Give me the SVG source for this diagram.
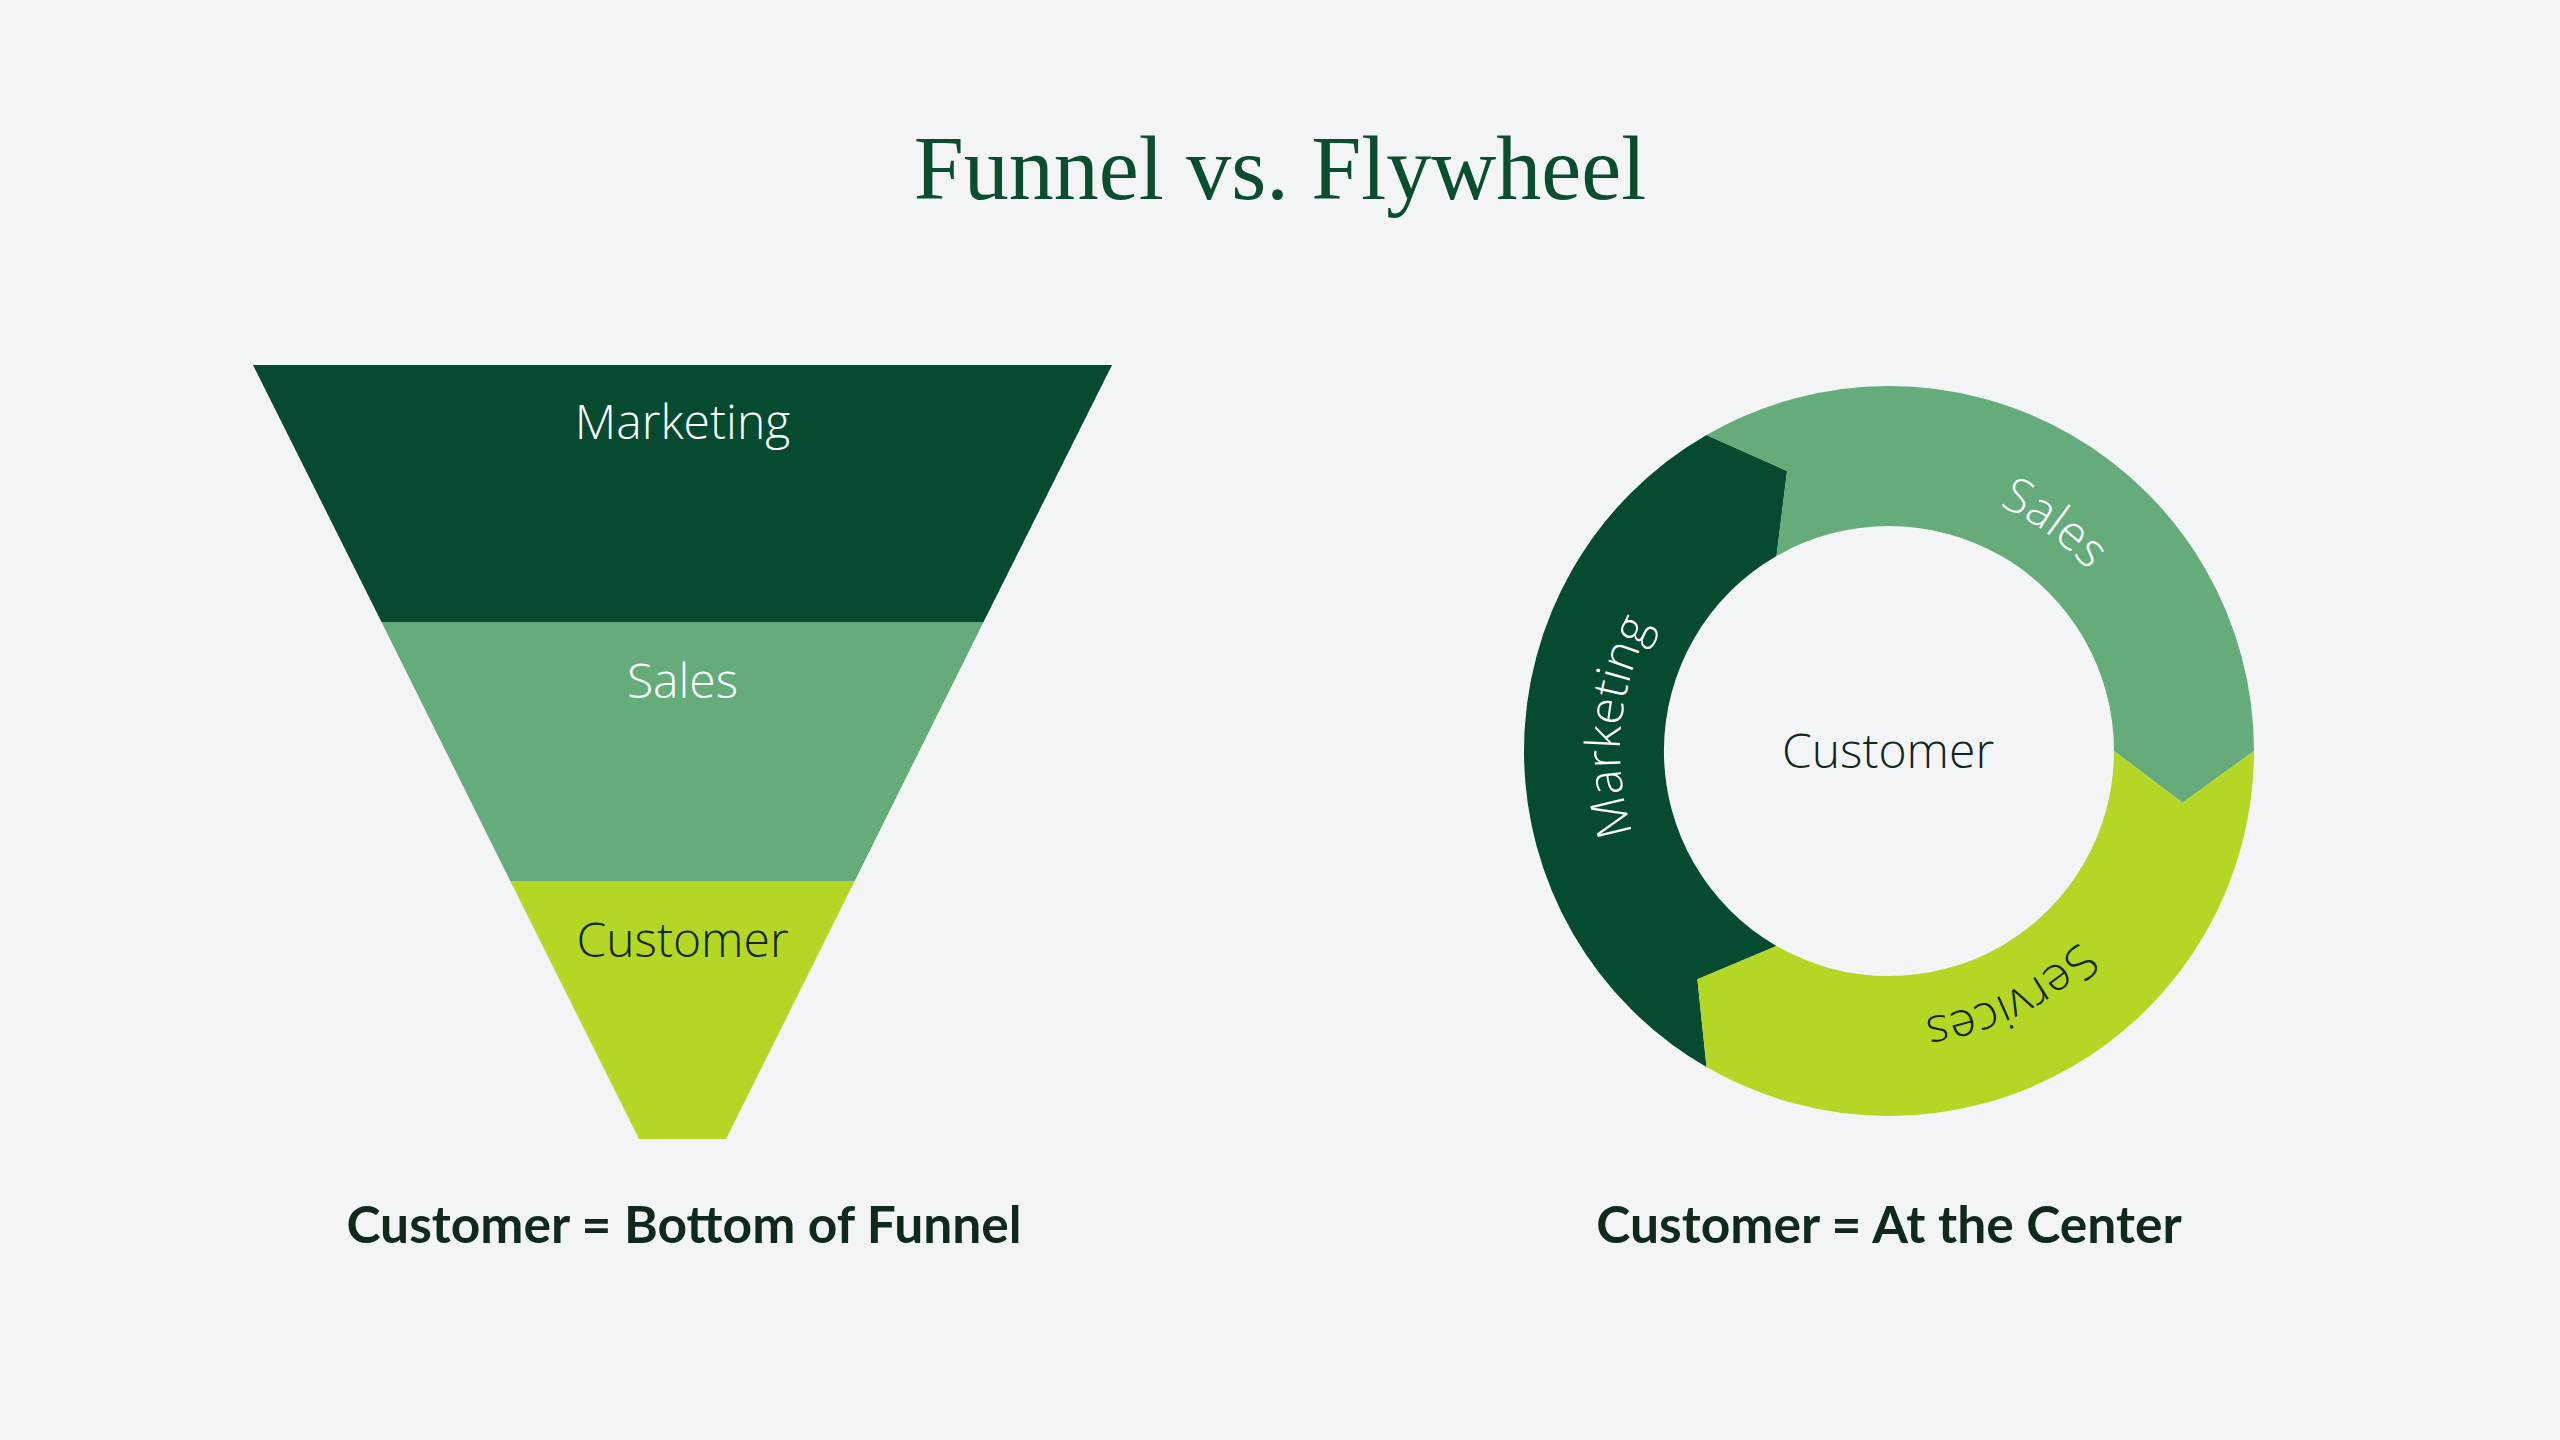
<svg xmlns="http://www.w3.org/2000/svg" width="2560" height="1440" viewBox="0 0 2560 1440">
<style>
.lbl{font-family:"Open Sans","Liberation Sans",sans-serif;font-weight:300;font-size:48px;text-anchor:middle}
.w{fill:#ffffff}
.d{fill:#13261c}
.cap{font-family:Lato,"Liberation Sans",sans-serif;font-weight:700;font-size:51.5px;fill:#0f2a1c;text-anchor:middle}
.c1{fill:#064a30}
.c2{fill:#65ac7a}
.c3{fill:#b4d625}
</style>
<defs>
<path id="ring" d="M 1889 1020 A 269 269 0 0 1 1889 482 A 269 269 0 0 1 1889 1020"/>
</defs>
<rect width="2560" height="1440" fill="#f2f4f5"/>
<text x="1280" y="199" font-family="'Liberation Serif',serif" font-size="90" fill="#0b4d2f" text-anchor="middle">Funnel vs. Flywheel</text>
<g id="funnel">
<g id="funnel-marketing"><polygon class="c1" points="253,365 1112,365 983.5,622 381.5,622"/><text class="lbl w" x="682.5" y="439">Marketing</text></g>
<g id="funnel-sales"><polygon class="c2" points="381.5,622 983.5,622 854.7,881 510.3,881"/><text class="lbl w" x="682.5" y="698">Sales</text></g>
<g id="funnel-customer"><polygon class="c3" points="510.3,881 854.7,881 726,1139 639,1139"/><text class="lbl d" x="682.5" y="957">Customer</text></g>
</g>
<g id="flywheel">
<g id="fw-marketing"><path class="c1" d="M 1706.5 1067.1 A 365 365 0 0 1 1706.5 434.9 L 1787.1 471.0 L 1776.5 556.1 A 225 225 0 0 0 1776.5 945.9 L 1697.4 979.3 Z"/>
<text class="lbl w"><textPath href="#ring" startOffset="26.4%">Marketing</textPath></text></g>
<g id="fw-sales"><path class="c2" d="M 1706.5 434.9 A 365 365 0 0 1 2254 751 L 2182.5 802.7 L 2114 751 A 225 225 0 0 0 1776.5 556.1 L 1787.1 471.0 Z"/>
<text class="lbl w"><textPath href="#ring" startOffset="60%">Sales</textPath></text></g>
<g id="fw-services"><path class="c3" d="M 2254 751 A 365 365 0 0 1 1706.5 1067.1 L 1697.4 979.3 L 1776.5 945.9 A 225 225 0 0 0 2114 751 L 2182.5 802.7 Z"/>
<text class="lbl d"><textPath href="#ring" startOffset="92.7%">Services</textPath></text></g>
<g id="fw-customer"><text class="lbl d" x="1888" y="768">Customer</text></g>
</g>
<g id="connectors"></g>
<text class="cap" x="684" y="1243">Customer = Bottom of Funnel</text>
<text class="cap" x="1889" y="1243">Customer = At the Center</text>
</svg>
